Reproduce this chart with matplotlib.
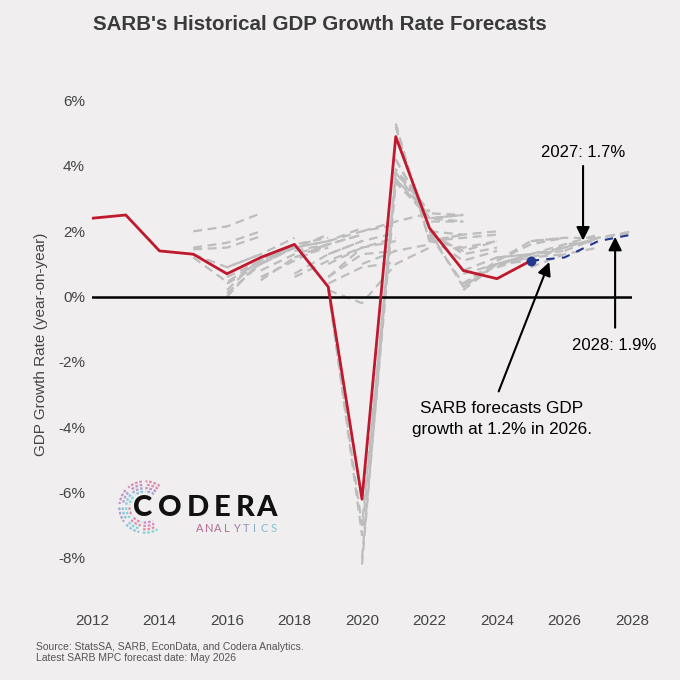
import numpy as np
import matplotlib
matplotlib.use('Agg')
import matplotlib.pyplot as plt
from matplotlib.patches import Arc

plt.rcParams['font.family'] = ['Liberation Sans', 'DejaVu Sans']

bgColor= '#F0EEEF'
actualColor= '#C0182C'
forecastColor= '#22378F'
vintageColor= '#BDBDBD'
textColor= '#444444'

# actual GDP growth (%)
years= [2012, 2013, 2014, 2015, 2016, 2017, 2018, 2019, 2020, 2021, 2022, 2023, 2024, 2025]
actual= [2.4, 2.5, 1.4, 1.3, 0.7, 1.2, 1.6, 0.3, -6.2, 4.9, 2.1, 0.8, 0.55, 1.1]

# latest SARB MPC forecast (May 2026)
latestYears= [2025, 2026, 2027, 2028]
latest= [1.1, 1.2, 1.7, 1.9]

# earlier MPC forecast vintages: start year -> list of paths
fc2015= [[2.0, 2.15, 2.55], [1.5, 1.65, 2.0], [1.45, 1.5, 1.85], [1.3, 0.9, 1.3], [1.2, 0.45, 1.1]]
fc2016= [[0.9, 1.3, 1.8], [0.6, 1.1, 1.6], [0.0, 1.1, 1.5], [0.1, 1.0, 1.6], [0.2, 1.2, 1.6], [0.4, 1.0, 1.5]]
fc2017= [[1.0, 1.5, 1.7], [1.2, 1.5, 1.9], [1.0, 1.6, 1.8], [0.5, 1.2, 1.5], [0.6, 1.1, 1.6], [0.8, 1.3, 1.6]]
fc2018= [[1.4, 1.6, 1.9], [1.5, 1.7, 2.1], [1.2, 1.6, 1.9], [0.7, 1.3, 1.7], [0.6, 1.1, 1.5]]
fc2019= [[1.7, 2.0, 2.2], [1.3, 1.7, 1.95], [1.0, 1.5, 1.8], [0.6, 1.5, 1.7], [0.6, 1.3, 1.4], [0.4, 0.9, 1.05],
         [0.2, -0.2, 1.0, 1.5], [0.2, -7.0, 3.6, 2.5], [0.3, -7.3, 3.8, 2.6]]
fc2020= [[2.0, 2.3, 2.55, 2.5], [-8.2, 3.9, 2.6], [-8.0, 3.5, 2.4], [1.0, 1.4, 1.6]]
fc2021= [[3.6, 2.4, 2.5], [3.8, 2.4, 2.5], [4.2, 2.4, 2.3], [4.2, 2.3, 2.3], [5.3, 1.7, 1.9], [5.2, 1.7, 1.9]]
fc2022= [[1.7, 1.8, 1.9], [2.0, 1.9, 2.0], [1.7, 1.5, 1.7], [2.0, 1.3, 1.5], [1.9, 1.4, 1.7], [1.8, 1.1, 1.4],
         [2.0, 0.3, 1.0], [1.9, 0.4, 1.1]]
fc2023= [[0.3, 1.0, 1.3], [0.2, 1.0, 1.1], [0.4, 1.0, 1.2], [0.7, 1.0, 1.3], [0.8, 1.2, 1.3]]
fc2024= [[1.2, 1.3, 1.4], [0.9, 1.2, 1.3], [0.9, 1.3, 1.5], [1.1, 1.6, 1.8], [1.1, 1.7, 1.8]]
fc2025= [[1.7, 1.8, 1.8], [1.0, 1.6, 1.7], [0.9, 1.3, 1.5], [1.2, 1.5, 1.8], [1.3, 1.6, 1.9]]
fc2026= [[1.5, 1.8, 2.0], [1.4, 1.8, 1.95]]

vintages= {2015: fc2015, 2016: fc2016, 2017: fc2017, 2018: fc2018, 2019: fc2019,
           2020: fc2020, 2021: fc2021, 2022: fc2022, 2023: fc2023, 2024: fc2024,
           2025: fc2025, 2026: fc2026}

yTicks= [-8, -6, -4, -2, 0, 2, 4, 6]
xTicks= [2012, 2014, 2016, 2018, 2020, 2022, 2024, 2026, 2028]

fig= plt.figure(figsize=(6.8, 6.8), dpi=100, facecolor=bgColor)
ax= fig.add_axes([0.1353, 0.1074, 0.7941, 0.7926])
ax.set_facecolor(bgColor)

for start in vintages:
    for path in vintages[start]:
        xs= np.arange(start, start + len(path))
        ax.plot(xs, path, color=vintageColor, lw=1.6, dashes=(4, 2.5), zorder=2)

ax.axhline(0, color='black', lw=1.8, zorder=3)
ax.plot(years, actual, color=actualColor, lw=2.0, zorder=4)
ax.plot(latestYears, latest, color=forecastColor, lw=1.5, dashes=(4, 3.5), zorder=5)
ax.plot(latestYears[0], latest[0], 'o', color=forecastColor, ms=6, zorder=6)

ax.set_xlim(2012, 2028)
ax.set_ylim(-9.5, 7)
ax.set_xticks(xTicks)
ax.set_xticklabels([str(x) for x in xTicks])
ax.set_yticks(yTicks)
ax.set_yticklabels(['%d%%' % v for v in yTicks])
ax.tick_params(axis='both', length=0, labelsize=11, labelcolor=textColor, pad=5)
for s in ax.spines.values():
    s.set_visible(False)
ax.set_ylabel('GDP Growth Rate (year-on-year)', fontsize=11, color=textColor)
ax.yaxis.set_label_coords(-0.081, 0.487)

arrow= dict(arrowstyle='-|>', color='black', lw=1.5, mutation_scale=20, shrinkA=0, shrinkB=0)
ax.annotate('', xy=(2026.55, 1.72), xytext=(2026.55, 4.0), arrowprops=arrow, zorder=7)
ax.text(2026.55, 4.4, '2027: 1.7%', ha='center', va='center', fontsize=12)
ax.annotate('', xy=(2027.5, 1.83), xytext=(2027.5, -0.95), arrowprops=arrow, zorder=7)
ax.text(2027.47, -1.5, '2028: 1.9%', ha='center', va='center', fontsize=12)
ax.annotate('', xy=(2025.55, 1.06), xytext=(2024.05, -2.9), arrowprops=arrow, zorder=7)
ax.text(2024.15, -3.2, 'SARB forecasts GDP\ngrowth at 1.2% in 2026.', ha='center', va='top',
        fontsize=12.3, linespacing=1.45)

fig.text(93/680, 1 - 24/680, "SARB's Historical GDP Growth Rate Forecasts", ha='left', va='center',
         fontsize=14.8, fontweight='bold', color='#3a3a3a')
fig.text(36/680, 1 - 647/680, 'Source: StatsSA, SARB, EconData, and Codera Analytics.',
         ha='left', va='center', fontsize=7.5, color='#555555')
fig.text(36/680, 1 - 658/680, 'Latest SARB MPC forecast date: May 2026',
         ha='left', va='center', fontsize=7.5, color='#555555')

# logo
logoAx= fig.add_axes([118/680, 1 - 534/680, 54/680, 54/680])
logoAx.set_xlim(-1, 1)
logoAx.set_ylim(-1, 1)
logoAx.axis('off')
ringCols= ['#E38BA8', '#D98BB5', '#C48FC4', '#A9A3D2', '#8CC3DA', '#7FD3DA']
for k, r in enumerate([1.9, 1.65, 1.4, 1.15]):
    for j in range(6):
        t1= 55 + j*42
        logoAx.add_patch(Arc((0, 0), r, r, theta1=t1, theta2=t1 + 34, color=ringCols[(j + k) % 6],
                             lw=1.6, ls=(0, (1.2, 0.8))))
codera= ['C', 'O', 'D', 'E', 'R', 'A']
coderaX= [143, 169.5, 198, 222.5, 245, 267]
for ch, px in zip(codera, coderaX):
    fig.text(px/680, 1 - 508/680, ch, ha='center', va='center', fontsize=21,
             fontweight='black', family='Lato', color='#111111')
analytics= 'ANALYTICS'
analyticsCols= ['#B5688A', '#B26B8E', '#AC6F93', '#A67599', '#9C80A6', '#9094B8', '#86ABC7', '#80BBD1', '#7CC5D8']
for i, ch in enumerate(analytics):
    fig.text((195 + 9.2*(i + 0.5))/680, 1 - 529/680, ch, ha='center', va='center', fontsize=8,
             family='Lato', color=analyticsCols[i])

fig.savefig('out.png', dpi=100, facecolor=bgColor)
